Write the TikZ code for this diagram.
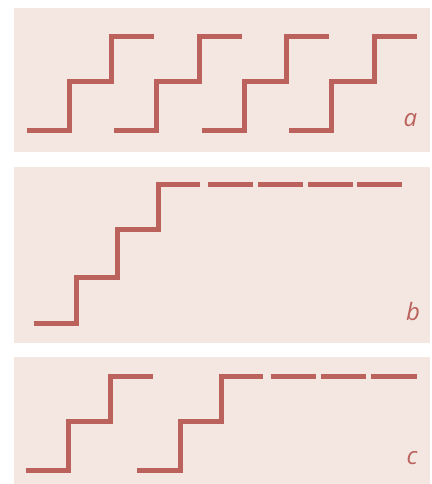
\documentclass[tikz,border=0pt]{standalone}
\usepackage{fontspec}
\setmainfont{Open Sans}
\definecolor{bgpink}{HTML}{F4E7E2}
\definecolor{stair}{HTML}{BA625B}
\begin{document}
\begin{tikzpicture}[x=1pt,y=-1pt,
  panel/.style={fill=bgpink,draw=none},
  stairline/.style={draw=stair,line width=5pt,line cap=butt,line join=miter},
  lbl/.style={text=stair,font=\fontsize{24}{24}\selectfont\itshape,inner sep=0pt}]
\useasboundingbox (0,0) rectangle (431,484);
% panel a
\fill[panel] (14,8) rectangle (430,152);
\foreach \i in {0,...,3} {
  \draw[stairline] ({26.5+87.5*\i},130.5) -| ++(42.5,-48.5) -| ++(42.5,-45) -- ++(42.5,0);
}
\node[lbl] (la) at (410.5,120.5) {a};
% panel b
\fill[panel] (14,167) rectangle (430,343);
\draw[stairline] (33.5,323.5) -| (76.5,277.5) -| (117,229) -| (158.5,184) -- (200,184);
\foreach \s/\e in {207.5/252.5,257.5/302.5,308/353,357/402} {
  \draw[stairline] (\s,184) -- (\e,184);
}
\node[lbl] (lb) at (413,311) {b};
% panel c
\fill[panel] (14,357) rectangle (430,484);
\draw[stairline] (26,470) -| (68.7,421) -| (110,376) -- (152.7,376);
\draw[stairline] (137,470) -| (180,421) -| (221.7,376) -- (263.3,376);
\foreach \s/\e in {270.7/315.7,321/365.7,371.3/416.7} {
  \draw[stairline] (\s,376) -- (\e,376);
}
\node[lbl] (lc) at (412,458.3) {c};
\end{tikzpicture}
\end{document}
